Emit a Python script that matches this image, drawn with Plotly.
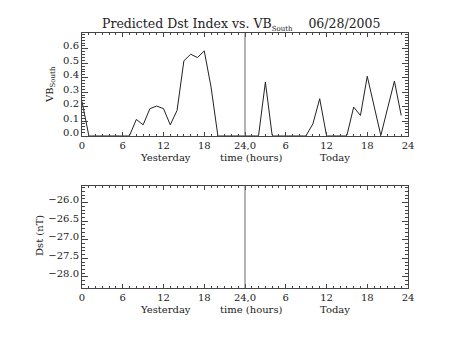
import plotly.graph_objects as go

# Hourly VB_South over yesterday (0-23) and today (24-47)
hours = list(range(48))
vb_south = [
    0.235, 0.0, 0.0, 0.0, 0.0, 0.0, 0.0, 0.0,
    0.111, 0.074, 0.186, 0.204, 0.186, 0.074, 0.174, 0.517,
    0.563, 0.540, 0.586, 0.336, 0.0, 0.0, 0.0, 0.0,
    0.005, 0.005, 0.0, 0.370, 0.0, 0.0, 0.0, 0.0,
    0.0, 0.0, 0.081, 0.255, 0.0, 0.0, 0.0, 0.0,
    0.197, 0.139, 0.410, 0.200, 0.0, 0.190, 0.377, 0.139,
]

x_tickvals = [0, 6, 12, 18, 24, 30, 36, 42, 48]
x_ticktext = ["0", "6", "12", "18", "24,0", "6", "12", "18", "24"]
vb_tickvals = [0.0, 0.1, 0.2, 0.3, 0.4, 0.5, 0.6]
dst_tickvals = [-26.0, -26.5, -27.0, -27.5, -28.0]

FONT = "DejaVu Serif"
AX = "#444444"

fig = go.Figure()
fig.add_trace(go.Scatter(
    x=hours, y=vb_south, mode="lines",
    line=dict(color="#222222", width=1),
    xaxis="x", yaxis="y", showlegend=False, hoverinfo="skip",
))
# empty Dst panel still needs a trace to draw its axes
fig.add_trace(go.Scatter(
    x=[], y=[], mode="lines", xaxis="x2", yaxis="y2", showlegend=False,
))

xcommon = dict(
    range=[0, 48], tickmode="array", tickvals=x_tickvals, ticktext=x_ticktext,
    ticks="inside", ticklen=4, tickcolor=AX, showline=True, linecolor=AX,
    linewidth=1, mirror="ticks", showgrid=False, zeroline=False,
    tickfont=dict(family=FONT, size=10, color="#222"),
    minor=dict(tickmode="linear", tick0=0, dtick=1, ticks="inside",
               ticklen=2, tickcolor=AX),
)
ycommon = dict(
    ticks="inside", ticklen=6, tickcolor=AX, showline=True, linecolor=AX,
    linewidth=1, mirror="ticks", showgrid=False, zeroline=False,
    tickfont=dict(family=FONT, size=10, color="#222"),
    ticklabelshift=-3,
)

fig.update_layout(
    width=453, height=340,
    margin=dict(l=82, r=45, t=33, b=52),
    paper_bgcolor="white", plot_bgcolor="white",
    xaxis=dict(domain=[0, 1], anchor="y", **xcommon),
    yaxis=dict(domain=[0.598, 1], anchor="x", range=[0, 0.71],
               tickmode="array", tickvals=vb_tickvals,
               ticktext=[f"{v:.1f}" for v in vb_tickvals],
               minor=dict(tickmode="linear", tick0=0, dtick=0.02,
                          ticks="inside", ticklen=3, tickcolor=AX),
               **ycommon),
    xaxis2=dict(domain=[0, 1], anchor="y2", **xcommon),
    yaxis2=dict(domain=[0, 0.4], anchor="x2", range=[-28.30, -25.55],
                tickmode="array", tickvals=dst_tickvals,
                ticktext=[f"{v:.1f}".replace("-", "\u2212") for v in dst_tickvals],
                minor=dict(tickmode="linear", tick0=0, dtick=0.1,
                           ticks="inside", ticklen=3, tickcolor=AX),
                **ycommon),
)

# day boundary marker in both panels
for xr, yr in (("x", "y"), ("x2", "y2")):
    fig.add_shape(type="line", xref=xr, yref=f"{yr} domain",
                  x0=24, x1=24, y0=0, y1=1,
                  line=dict(color="#666666", width=1))

ann_font = dict(family=FONT, size=10, color="#222")
annotations = []
for xr, yref in (("x", "y domain"), ("x2", "y2 domain")):
    for xv, txt in ((12.3, "Yesterday"), (25.0, "time (hours)"), (37.3, "Today")):
        annotations.append(dict(
            x=xv, y=-0.21, xref=xr, yref=yref, text=txt, showarrow=False,
            font=ann_font, xanchor="center", yanchor="middle",
        ))

annotations.append(dict(
    x=(100 - 82) / 326, y=(288 - 25) / 255, xref="paper", yref="paper",
    text=("Predicted Dst Index vs. VB<sub><span style='font-size:7px'>South"
          "</span></sub>    06/28/2005"),
    showarrow=False, xanchor="left", yanchor="middle",
    font=dict(family=FONT, size=12.5, color="#222"),
))
annotations.append(dict(
    x=(50 - 82) / 326, y=(288 - 85) / 255, xref="paper", yref="paper",
    text="VB<sub><span style='font-size:7px'>South</span></sub>",
    textangle=-90, showarrow=False,
    xanchor="center", yanchor="middle", font=ann_font,
))
annotations.append(dict(
    x=(39 - 82) / 326, y=(288 - 236) / 255, xref="paper", yref="paper",
    text="Dst (nT)", textangle=-90, showarrow=False,
    xanchor="center", yanchor="middle", font=ann_font,
))
fig.update_layout(annotations=annotations)

fig.write_html("out.html")
